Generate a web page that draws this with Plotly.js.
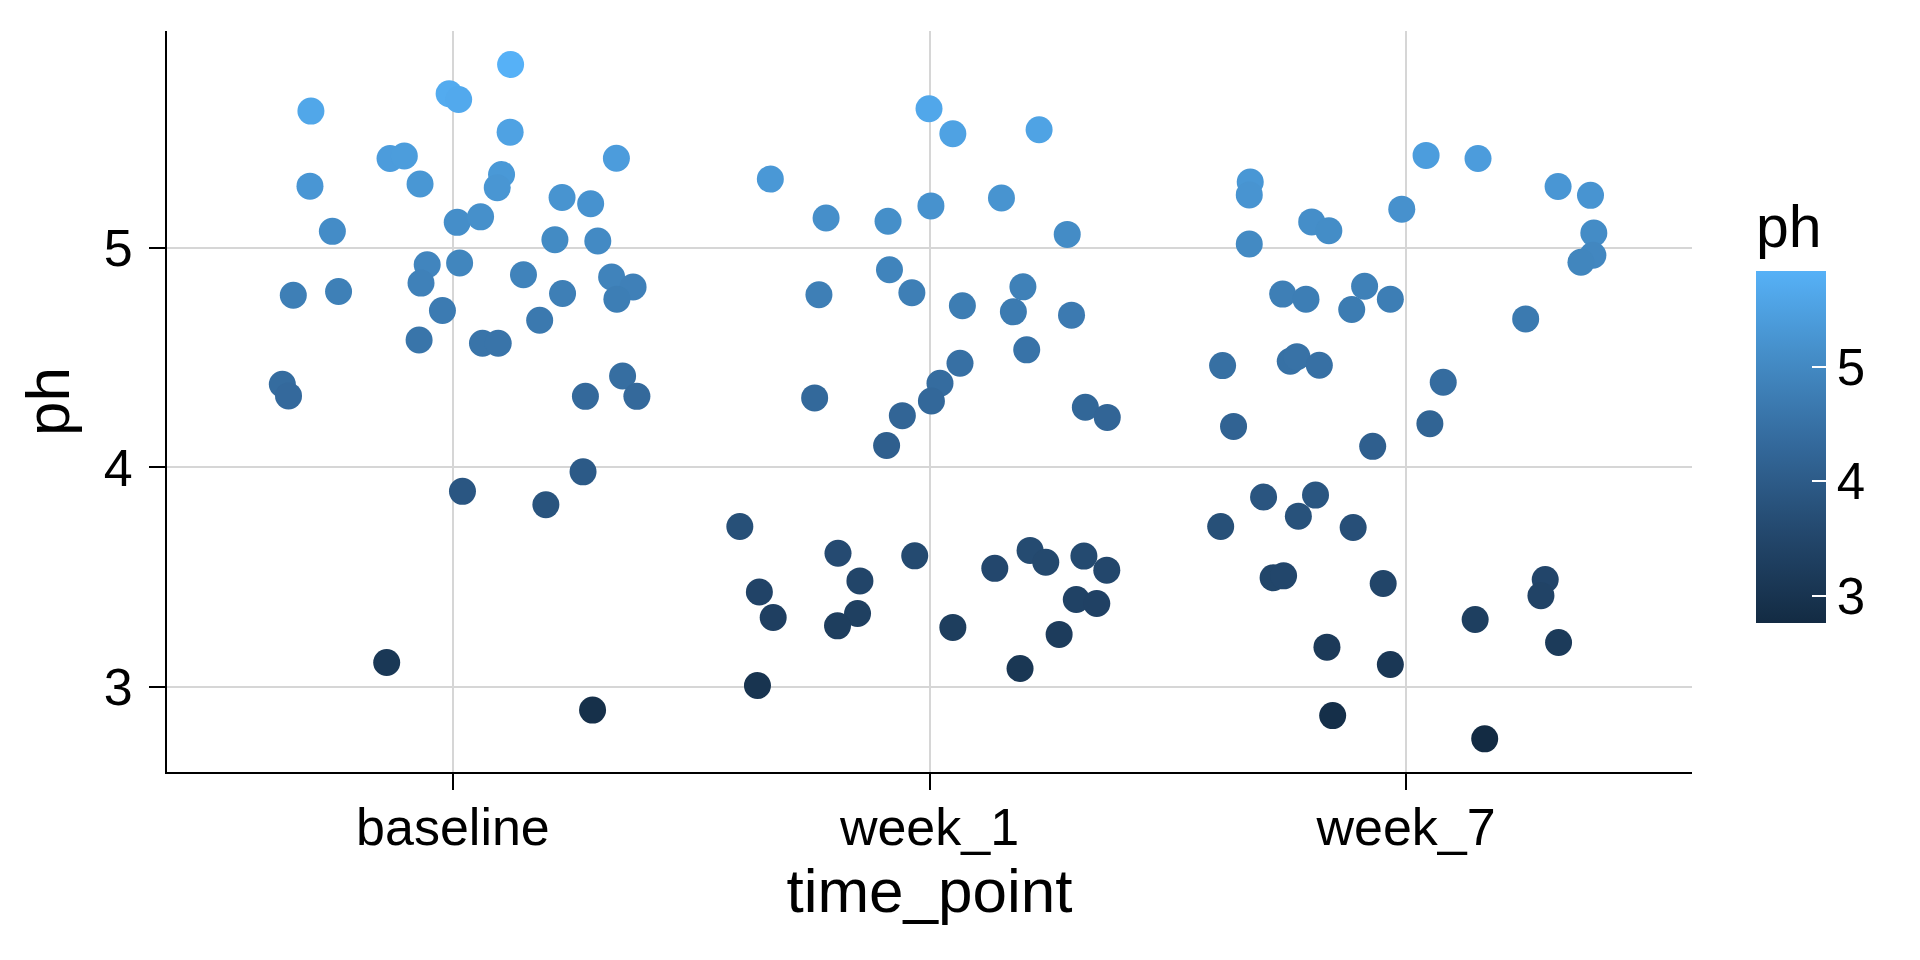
<!DOCTYPE html>
<html>
<head>
<meta charset="utf-8">
<script src="https://cdn.plot.ly/plotly-3.0.1.min.js"></script>
<style>
    html, body { margin: 0; padding: 0; background: #ffffff; }
    #chart { width: 1920px; height: 960px; }
</style>
</head>
<body>
<div id="chart"></div>
<script>
// categories on the x axis
var timePoints = ["baseline", "week_1", "week_7"]

// jitter offset (in category units) and ph value of each point
var baselineJitter = [0.121, -0.008, 0.012, -0.298, 0.120, -0.132, -0.102, 0.343, 0.102, 0.093,
    -0.300, -0.069, 0.229, 0.289, 0.009, 0.058, -0.253, 0.214, 0.304, -0.054,
    0.014, -0.067, 0.148, 0.333, 0.378, 0.344, 0.230, -0.335, -0.240, -0.022,
    0.182, -0.071, 0.062, 0.095, -0.358, -0.345, 0.356, 0.278, 0.386, 0.273,
    0.020, 0.195, -0.139, 0.293]
var baselinePh = [5.836, 5.703, 5.677, 5.624, 5.528, 5.408, 5.419, 5.409, 5.335, 5.275,
    5.282, 5.292, 5.230, 5.202, 5.117, 5.142, 5.076, 5.038, 5.032, 4.924,
    4.932, 4.840, 4.878, 4.868, 4.822, 4.767, 4.793, 4.785, 4.802, 4.715,
    4.671, 4.581, 4.566, 4.566, 4.379, 4.326, 4.417, 4.324, 4.324, 3.980,
    3.891, 3.830, 3.111, 2.894]

var week1Jitter = [-0.001, 0.049, 0.230, -0.334, -0.217, -0.087, 0.003, 0.151, 0.289, -0.084,
    -0.037, -0.232, 0.069, 0.196, 0.176, 0.298, 0.204, 0.064, 0.022, 0.004,
    -0.241, -0.057, -0.090, 0.327, 0.373, -0.398, -0.357, -0.328, -0.361, -0.192,
    -0.146, -0.151, -0.193, -0.031, 0.049, 0.137, 0.211, 0.244, 0.324, 0.372,
    0.308, 0.351, 0.272, 0.190]
var week1Ph = [5.635, 5.521, 5.539, 5.314, 5.137, 5.122, 5.192, 5.228, 5.062, 4.901,
    4.796, 4.787, 4.737, 4.823, 4.709, 4.694, 4.536, 4.475, 4.384, 4.303,
    4.317, 4.236, 4.100, 4.274, 4.228, 3.731, 3.432, 3.316, 3.006, 3.609,
    3.483, 3.334, 3.278, 3.597, 3.271, 3.540, 3.622, 3.568, 3.596, 3.532,
    3.398, 3.380, 3.239, 3.084]

var week7Jitter = [0.042, 0.151, 0.319, 0.387, -0.327, -0.329, -0.009, -0.198, -0.162, -0.329,
    0.394, 0.392, 0.367, -0.259, -0.210, -0.087, -0.033, -0.114, 0.251, -0.385,
    -0.243, -0.229, -0.182, 0.078, 0.050, -0.362, -0.070, -0.299, -0.190, -0.226,
    -0.389, -0.111, -0.279, -0.257, -0.048, 0.292, 0.283, 0.145, 0.320, -0.166,
    -0.033, -0.154, 0.165]
var week7Ph = [5.422, 5.408, 5.280, 5.240, 5.301, 5.242, 5.177, 5.119, 5.079, 5.018,
    5.068, 4.967, 4.935, 4.790, 4.767, 4.826, 4.767, 4.720, 4.677, 4.464,
    4.484, 4.505, 4.466, 4.388, 4.199, 4.187, 4.096, 3.865, 3.874, 3.778,
    3.731, 3.726, 3.497, 3.506, 3.471, 3.489, 3.415, 3.307, 3.202, 3.181,
    3.102, 2.869, 2.763]

// colour bar ticks
var phTicks = [3, 4, 5]

// ggplot's default blue gradient, with lab-interpolated stops in between
var colorscale = [
    [0, "#132B43"],
    [0.25, "#23476C"],
    [0.5, "#33689A"],
    [0.75, "#448CC6"],
    [1, "#56B1F7"],
]

var fontFamily = "Liberation Sans, Arial, sans-serif"

var allPh = baselinePh.concat(week1Ph, week7Ph)
var phMin = Math.min.apply(null, allPh)
var phMax = Math.max.apply(null, allPh)

function makeTrace(index, jitter, ph, showScale) {
    return {
        type: "scatter",
        mode: "markers",
        name: timePoints[index],
        x: jitter.map(function (j) { return index + j }),
        y: ph,
        hovertemplate: timePoints[index] + "<br>ph: %{y}<extra></extra>",
        marker: {
            size: 27,
            color: ph,
            colorscale: colorscale,
            cmin: phMin,
            cmax: phMax,
            line: { width: 0 },
            showscale: showScale,
            colorbar: {
                // the title sits inside len, so len = bar + title room
                title: { text: "ph", side: "top", font: { size: 59, color: "#000000" } },
                thickness: 70,
                thicknessmode: "pixels",
                len: 423,
                lenmode: "pixels",
                x: 1.042,
                xanchor: "left",
                y: 0.201,
                yanchor: "bottom",
                xpad: 0,
                ypad: 0,
                outlinewidth: 0,
                tickmode: "array",
                tickvals: phTicks,
                ticktext: phTicks.map(String),
                tickprefix: "\u00a0\u00a0\u00a0",
                ticks: "inside",
                ticklen: 14,
                tickwidth: 1.5,
                tickcolor: "#ffffff",
                tickfont: { size: 51, color: "#000000" },
            },
        },
    }
}

var data = [
    makeTrace(0, baselineJitter, baselinePh, true),
    makeTrace(1, week1Jitter, week1Ph, false),
    makeTrace(2, week7Jitter, week7Ph, false),
]

var layout = {
    width: 1920,
    height: 960,
    paper_bgcolor: "#ffffff",
    plot_bgcolor: "#ffffff",
    showlegend: false,
    font: { family: fontFamily, color: "#000000" },
    margin: { l: 167, r: 228, t: 31, b: 188 },
    xaxis: {
        range: [-0.6, 2.6],
        tickmode: "array",
        tickvals: [0, 1, 2],
        ticktext: timePoints,
        showgrid: true,
        gridcolor: "#d6d6d6",
        gridwidth: 2,
        zeroline: false,
        showline: true,
        linecolor: "#000000",
        linewidth: 2,
        ticks: "outside",
        ticklen: 16,
        tickwidth: 2,
        tickcolor: "#000000",
        tickfont: { size: 52 },
        ticklabelstandoff: -7,
        title: { text: "time_point", font: { size: 62 }, standoff: 8 },
        fixedrange: true,
        automargin: false,
    },
    yaxis: {
        range: [2.612, 5.989],
        tickmode: "array",
        tickvals: phTicks,
        showgrid: true,
        gridcolor: "#d6d6d6",
        gridwidth: 2,
        zeroline: false,
        showline: true,
        linecolor: "#000000",
        linewidth: 2,
        ticks: "outside",
        ticklen: 16,
        tickwidth: 2,
        tickcolor: "#000000",
        tickfont: { size: 52 },
        ticklabelstandoff: 6,
        title: { text: "ph", font: { size: 62 }, standoff: 14 },
        fixedrange: true,
        automargin: false,
    },
}

var config = {
    displayModeBar: false,
    staticPlot: false,
}

Plotly.newPlot("chart", data, layout, config)
</script>
</body>
</html>
